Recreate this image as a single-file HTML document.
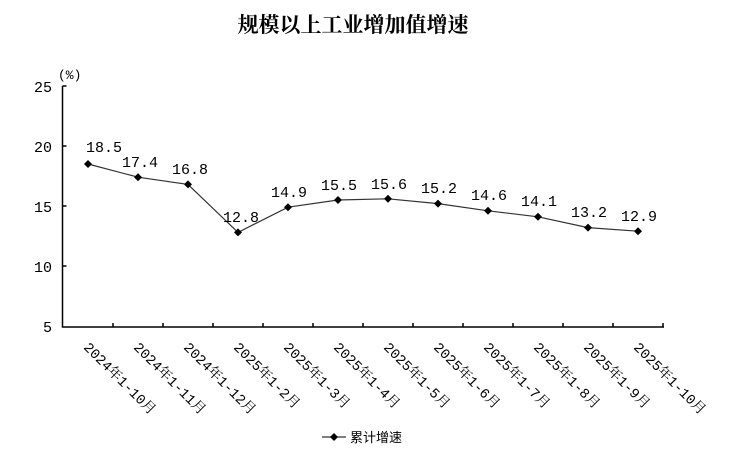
<!DOCTYPE html>
<html><head><meta charset="utf-8"><style>
body{margin:0;background:#fff;}
svg{display:block;font-family:"Liberation Mono","Noto Serif CJK SC",monospace;}
</style></head><body>
<svg width="742" height="458" viewBox="0 0 742 458">
<text x="353" y="32" text-anchor="middle" font-size="21" font-weight="bold" font-family="'Noto Serif CJK SC','Noto Sans CJK SC',serif">规模以上工业增加值增速</text>
<text x="58" y="79" font-size="13">(%)</text>
<g font-size="15" text-anchor="end">
<text x="52" y="92">25</text><text x="52" y="152">20</text><text x="52" y="212">15</text><text x="52" y="272">10</text><text x="52" y="332">5</text>
</g>
<g stroke="#000" stroke-width="1.5" fill="none">
<path d="M62.5 86V327H664"/>
<path d="M62.5 86h4M62.5 146h4M62.5 206h4M62.5 266h4"/>
<path d="M113 327v-4M163 327v-4M213 327v-4M263 327v-4M313 327v-4M363 327v-4M413 327v-4M463 327v-4M513 327v-4M563 327v-4M613 327v-4M663 327v-4"/>
</g>
<polyline fill="none" stroke="#333" stroke-width="1.2" points="88,164 138,177.2 188,184.4 238,232.4 288,207.2 338,200 388,198.8 438,203.6 488,210.8 538,216.8 588,227.6 638,231.2"/>
<g fill="#000">
<path d="M88 160l4 4-4 4-4-4z"/><path d="M138 173.2l4 4-4 4-4-4z"/><path d="M188 180.4l4 4-4 4-4-4z"/><path d="M238 228.4l4 4-4 4-4-4z"/><path d="M288 203.2l4 4-4 4-4-4z"/><path d="M338 196l4 4-4 4-4-4z"/><path d="M388 194.8l4 4-4 4-4-4z"/><path d="M438 199.6l4 4-4 4-4-4z"/><path d="M488 206.8l4 4-4 4-4-4z"/><path d="M538 212.8l4 4-4 4-4-4z"/><path d="M588 223.6l4 4-4 4-4-4z"/><path d="M638 227.2l4 4-4 4-4-4z"/>
</g>
<g font-size="15" text-anchor="middle">
<text x="104" y="152">18.5</text><text x="140" y="167">17.4</text><text x="190" y="174">16.8</text><text x="241" y="222">12.8</text><text x="289" y="197">14.9</text><text x="339" y="190">15.5</text><text x="389" y="189">15.6</text><text x="439" y="193">15.2</text><text x="489" y="200">14.6</text><text x="539" y="206">14.1</text><text x="589" y="217">13.2</text><text x="639" y="221">12.9</text>
</g>
<g font-size="14">
<text transform="translate(83,348) rotate(45)">2024年1-10月</text>
<text transform="translate(133,348) rotate(45)">2024年1-11月</text>
<text transform="translate(183,348) rotate(45)">2024年1-12月</text>
<text transform="translate(233,348) rotate(45)">2025年1-2月</text>
<text transform="translate(283,348) rotate(45)">2025年1-3月</text>
<text transform="translate(333,348) rotate(45)">2025年1-4月</text>
<text transform="translate(383,348) rotate(45)">2025年1-5月</text>
<text transform="translate(433,348) rotate(45)">2025年1-6月</text>
<text transform="translate(483,348) rotate(45)">2025年1-7月</text>
<text transform="translate(533,348) rotate(45)">2025年1-8月</text>
<text transform="translate(583,348) rotate(45)">2025年1-9月</text>
<text transform="translate(633,348) rotate(45)">2025年1-10月</text>
</g>
<path d="M322 437H346" stroke="#333" stroke-width="1.2"/>
<path d="M334 433l4 4-4 4-4-4z" fill="#000"/>
<text x="350" y="442" font-size="13" font-family="'Noto Sans CJK SC',sans-serif">累计增速</text>
</svg>
</body></html>
